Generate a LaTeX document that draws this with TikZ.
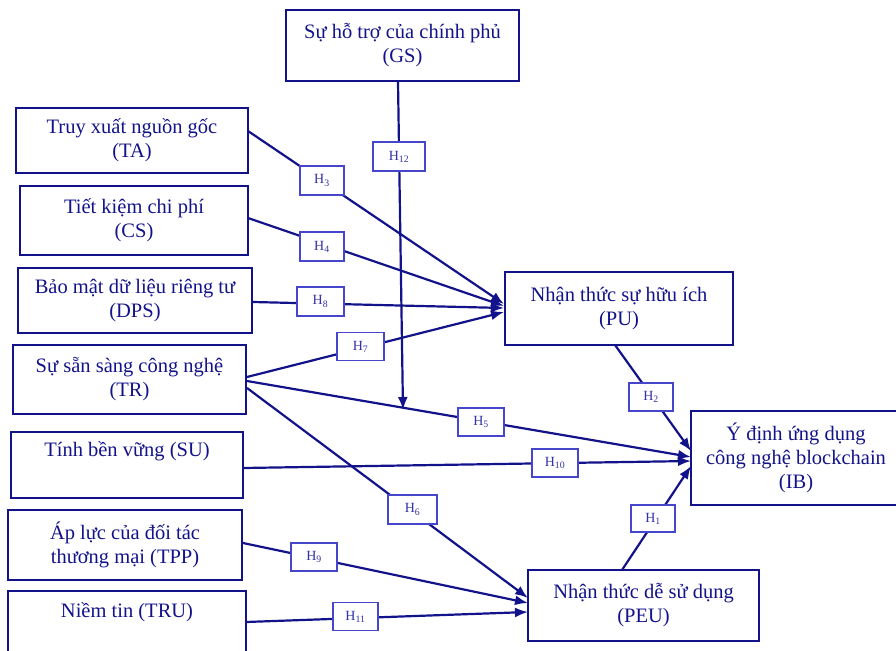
\documentclass[tikz,border=0pt]{standalone}
\usepackage{fontspec}
\setmainfont{Liberation Serif}
\usetikzlibrary{arrows.meta}
\definecolor{navy}{RGB}{18,18,138}
\definecolor{lblc}{RGB}{70,70,205}
\definecolor{lbltxt}{RGB}{50,50,170}
\begin{document}
\begin{tikzpicture}[x=1pt,y=-1pt,
  box/.style={draw=navy, line width=2.7pt, text=navy, align=center, font=\fontsize{20.5}{24}\selectfont, inner sep=0pt},
  lbl/.style={draw=lblc, line width=1.5pt, fill=white, text=lbltxt, font=\fontsize{14}{16}\selectfont, inner sep=0pt},
  conn/.style={draw=navy, line width=2.2pt, -{Latex[length=13pt,width=10pt]}}]
\useasboundingbox (0,0) rectangle (896,650);
% main boxes
\node[box, minimum width=233pt, minimum height=71pt] (GS) at (402.5,45.5) {Sự hỗ trợ của chính phủ\\(GS)};
\node[box, minimum width=232pt, minimum height=65pt] (TA) at (132,140.5) {Truy xuất nguồn gốc\\(TA)};
\node[box, minimum width=228pt, minimum height=69pt] (CS) at (134,220.5) {Tiết kiệm chi phí\\(CS)};
\node[box, minimum width=234pt, minimum height=65pt] (DPS) at (135,300.5) {Bảo mật dữ liệu riêng tư\\(DPS)};
\node[box, minimum width=233pt, minimum height=69pt] (TR) at (129.5,379.5) {Sự sẵn sàng công nghệ\\(TR)};
\node[box, minimum width=232pt, minimum height=66pt] (SU) at (127,465) {Tính bền vững (SU)\\\strut};
\node[box, minimum width=234pt, minimum height=70pt] (TPP) at (125,545) {Áp lực của đối tác\\thương mại (TPP)};
\node[box, minimum width=238pt, minimum height=70pt] (TRU) at (127,626) {Niềm tin (TRU)\\\strut};
\node[box, minimum width=228pt, minimum height=73pt] (PU) at (619,308.5) {Nhận thức sự hữu ích\\(PU)};
\node[box, minimum width=210pt, minimum height=94pt] (IB) at (796,458) {Ý định ứng dụng\\công nghệ blockchain\\(IB)};
\node[box, minimum width=231pt, minimum height=71pt] (PEU) at (643.5,605.5) {Nhận thức dễ sử dụng\\(PEU)};
% ports
\coordinate (GSo) at (398,82);
\coordinate (GSt) at (403,410);
\coordinate (TAo) at (248,131);
\coordinate (CSo) at (248,218);
\coordinate (DPSo) at (253,302);
\coordinate (TRa) at (247,377);
\coordinate (TRb) at (247,381);
\coordinate (TRc) at (247,388);
\coordinate (SUo) at (243,468);
\coordinate (TPPo) at (243,543);
\coordinate (TRUo) at (246,622);
\coordinate (PUo) at (615,345);
\coordinate (PEUo) at (622,570);
\coordinate (PUa) at (504,304);
\coordinate (PUb) at (504,306);
\coordinate (PUc) at (504,308);
\coordinate (PUd) at (504,312);
\coordinate (IBa) at (691,451);
\coordinate (IBb) at (691,457);
\coordinate (IBc) at (691,461);
\coordinate (IBd) at (691,466);
\coordinate (PEUa) at (528,598);
\coordinate (PEUb) at (528,603);
\coordinate (PEUc) at (528,612);
% connectors
\draw[conn] (TAo) -- (PUa);
\draw[conn] (CSo) -- (PUb);
\draw[conn] (DPSo) -- (PUc);
\draw[conn] (TRa) -- (PUd);
\draw[conn] (TRb) -- (IBb);
\draw[conn] (TRc) -- (PEUa);
\draw[conn] (SUo) -- (IBc);
\draw[conn] (TPPo) -- (PEUb);
\draw[conn] (TRUo) -- (PEUc);
\draw[conn] (PUo) -- (IBa);
\draw[conn] (PEUo) -- (IBd);
\draw[conn] (GSo) -- (GSt);
% labels
\node[lbl, minimum width=52pt, minimum height=29pt] (L12) at (399,156.5) {H\textsubscript{12}};
\node[lbl, minimum width=44pt, minimum height=29pt] (L3) at (322,180.5) {H\textsubscript{3}};
\node[lbl, minimum width=44pt, minimum height=29pt] (L4) at (322,246.5) {H\textsubscript{4}};
\node[lbl, minimum width=47pt, minimum height=29pt] (L8) at (320.5,301.5) {H\textsubscript{8}};
\node[lbl, minimum width=47pt, minimum height=28pt] (L7) at (360.5,346.5) {H\textsubscript{7}};
\node[lbl, minimum width=46pt, minimum height=28pt] (L5) at (481,422) {H\textsubscript{5}};
\node[lbl, minimum width=46pt, minimum height=28pt] (L10) at (555,463) {H\textsubscript{10}};
\node[lbl, minimum width=49pt, minimum height=29pt] (L6) at (412.5,509.5) {H\textsubscript{6}};
\node[lbl, minimum width=46pt, minimum height=28pt] (L9) at (314,557) {H\textsubscript{9}};
\node[lbl, minimum width=45pt, minimum height=28pt] (L11) at (355.5,616.5) {H\textsubscript{11}};
\node[lbl, minimum width=44pt, minimum height=28pt] (L2) at (651,397) {H\textsubscript{2}};
\node[lbl, minimum width=44pt, minimum height=27pt] (L1) at (653,518.5) {H\textsubscript{1}};
\end{tikzpicture}
\end{document}
